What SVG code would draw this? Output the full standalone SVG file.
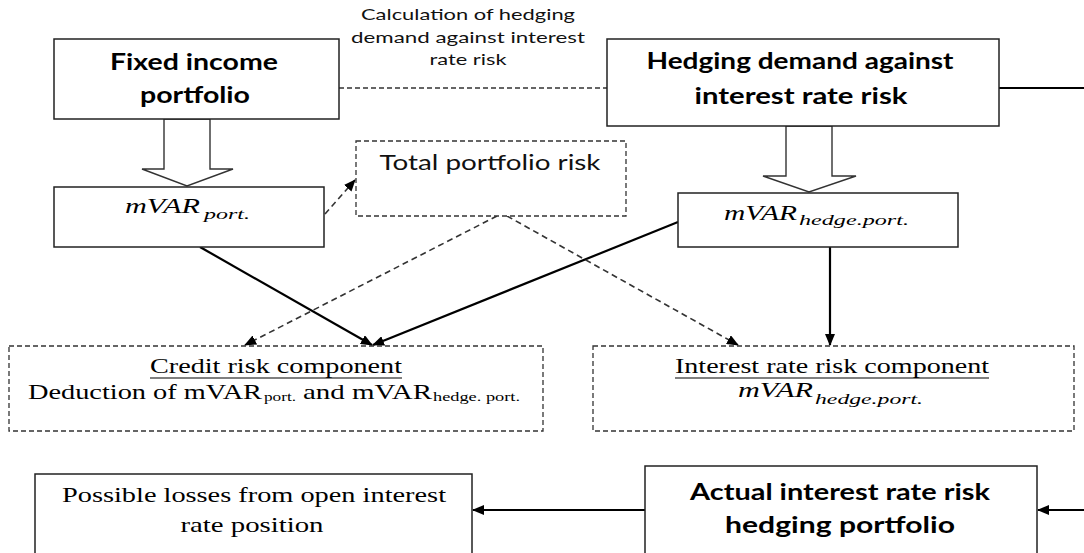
<svg xmlns="http://www.w3.org/2000/svg" width="1084" height="553" viewBox="0 0 1084 553">
  <style>
    .box { fill: #fff; stroke: #222; stroke-width: 1.5; }
    .dbox { fill: #fff; stroke: #333; stroke-width: 1.3; stroke-dasharray: 5 3; }
    .barrow { fill: #fff; stroke: #333; stroke-width: 1.4; stroke-linejoin: miter; }
    .head { font-family: Lato, "Liberation Sans", sans-serif; font-weight: bold; font-size: 22px; fill: #000; text-anchor: middle; }
    .sans { font-family: Lato, "Liberation Sans", sans-serif; fill: #111; text-anchor: middle; }
    .serif { font-family: "Liberation Serif", "DejaVu Serif", serif; fill: #000; }
    .math { font-family: "Liberation Serif", "DejaVu Serif", serif; font-style: italic; fill: #000; }
    .solid { stroke: #000; stroke-width: 2.2; fill: none; }
    .dash { stroke: #333; stroke-width: 1.6; fill: none; stroke-dasharray: 6 4; }
    .thin { stroke: #333; stroke-width: 1.3; fill: none; stroke-dasharray: 5 3; }
  </style>
  <defs>
    <marker id="arr" viewBox="0 0 12 10" refX="11" refY="5" markerWidth="12" markerHeight="10" markerUnits="userSpaceOnUse" orient="auto">
      <path d="M0,0 L12,5 L0,10 Z" fill="#000"/>
    </marker>
  </defs>

  <!-- connectors -->
  <g id="connectors">
    <line class="thin" x1="339" y1="88" x2="607" y2="88"/>
    <line class="solid" x1="999" y1="88" x2="1084" y2="88"/>
    <line class="dash" x1="325" y1="214" x2="355" y2="180" marker-end="url(#arr)"/>
    <line class="solid" x1="200" y1="247" x2="372" y2="345" marker-end="url(#arr)"/>
    <line class="solid" x1="678" y1="222" x2="373" y2="345" marker-end="url(#arr)"/>
    <line class="solid" x1="830" y1="247" x2="830" y2="345" marker-end="url(#arr)"/>
    <line class="dash" x1="497" y1="216" x2="245" y2="345" marker-end="url(#arr)"/>
    <line class="dash" x1="507" y1="216" x2="738" y2="345" marker-end="url(#arr)"/>
    <line class="solid" x1="1084" y1="510" x2="1038" y2="510" marker-end="url(#arr)"/>
    <line class="solid" x1="645" y1="510" x2="473" y2="510" marker-end="url(#arr)"/>
    <!-- hollow block arrows -->
    <polygon class="barrow" points="164,119 210,119 210,169 233,169 187,186 142,169 164,169"/>
    <polygon class="barrow" points="786,126 832,126 832,176 856,176 809,192 763,176 786,176"/>
  </g>

  <!-- calculation label -->
  <g id="calc-label" class="sans" font-size="16">
    <text x="468" y="20" textLength="214" lengthAdjust="spacingAndGlyphs">Calculation of hedging</text>
    <text x="468" y="43" textLength="234" lengthAdjust="spacingAndGlyphs">demand against interest</text>
    <text x="468" y="65" textLength="77" lengthAdjust="spacingAndGlyphs">rate risk</text>
  </g>

  <g id="fixed-income">
    <rect class="box" x="54" y="39" width="285" height="80"/>
    <text class="head" x="194" y="70" textLength="168" lengthAdjust="spacingAndGlyphs">Fixed income</text>
    <text class="head" x="195" y="103" textLength="110" lengthAdjust="spacingAndGlyphs">portfolio</text>
  </g>

  <g id="hedging-demand">
    <rect class="box" x="607" y="39" width="392" height="87"/>
    <text class="head" x="800" y="69" textLength="307" lengthAdjust="spacingAndGlyphs">Hedging demand against</text>
    <text class="head" x="801" y="104" textLength="213" lengthAdjust="spacingAndGlyphs">interest rate risk</text>
  </g>

  <g id="mvar-port">
    <rect class="box" x="54" y="187" width="270" height="60"/>
    <text class="math" x="125" y="213" font-size="21" textLength="75" lengthAdjust="spacingAndGlyphs">mVAR</text>
    <text class="math" x="204" y="219" font-size="15" textLength="46" lengthAdjust="spacingAndGlyphs">port.</text>
  </g>

  <g id="total-risk">
    <rect class="dbox" x="356" y="141" width="270" height="75"/>
    <text class="sans" x="490" y="170" font-size="22" textLength="221" lengthAdjust="spacingAndGlyphs">Total portfolio risk</text>
  </g>

  <g id="mvar-hedge">
    <rect class="box" x="678" y="193" width="280" height="54"/>
    <text class="math" x="724" y="220" font-size="21" textLength="73" lengthAdjust="spacingAndGlyphs">mVAR</text>
    <text class="math" x="799" y="225" font-size="15" textLength="110" lengthAdjust="spacingAndGlyphs">hedge.port.</text>
  </g>

  <g id="credit-risk">
    <rect class="dbox" x="9" y="346" width="534" height="85"/>
    <text class="serif" x="150" y="373" font-size="21" textLength="252" lengthAdjust="spacingAndGlyphs">Credit risk component</text>
    <line x1="150" y1="378" x2="402" y2="378" stroke="#000" stroke-width="1.2"/>
    <text class="serif" x="28" y="399" font-size="21" textLength="234" lengthAdjust="spacingAndGlyphs">Deduction of mVAR</text>
    <text class="serif" x="264" y="401" font-size="13" textLength="32" lengthAdjust="spacingAndGlyphs">port.</text>
    <text class="serif" x="303" y="399" font-size="21" textLength="129" lengthAdjust="spacingAndGlyphs"> and mVAR</text>
    <text class="serif" x="433" y="401" font-size="13" textLength="87" lengthAdjust="spacingAndGlyphs">hedge. port.</text>
  </g>

  <g id="interest-risk">
    <rect class="dbox" x="593" y="346" width="481" height="85"/>
    <text class="serif" x="675" y="373" font-size="21" textLength="314" lengthAdjust="spacingAndGlyphs">Interest rate risk component</text>
    <line x1="675" y1="378" x2="989" y2="378" stroke="#000" stroke-width="1.2"/>
    <text class="math" x="738" y="397" font-size="21" textLength="75" lengthAdjust="spacingAndGlyphs">mVAR</text>
    <text class="math" x="815" y="404" font-size="15" textLength="108" lengthAdjust="spacingAndGlyphs">hedge.port.</text>
  </g>

  <g id="possible-losses">
    <rect class="box" x="35" y="474" width="437" height="90"/>
    <text class="serif" x="254" y="502" font-size="21" text-anchor="middle" textLength="384" lengthAdjust="spacingAndGlyphs">Possible losses from open interest</text>
    <text class="serif" x="252" y="532" font-size="21" text-anchor="middle" textLength="143" lengthAdjust="spacingAndGlyphs">rate position</text>
  </g>

  <g id="actual-hedge">
    <rect class="box" x="645" y="466" width="392" height="98"/>
    <text class="head" x="840" y="500" textLength="300" lengthAdjust="spacingAndGlyphs">Actual interest rate risk</text>
    <text class="head" x="840" y="533" textLength="230" lengthAdjust="spacingAndGlyphs">hedging portfolio</text>
  </g>
</svg>
